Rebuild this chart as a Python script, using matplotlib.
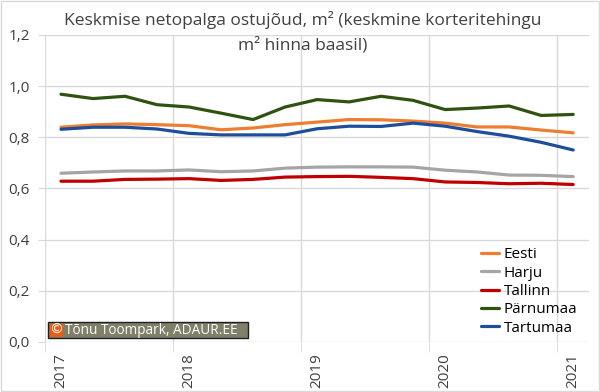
import matplotlib.pyplot as plt
import matplotlib.patches as mpatches
import numpy as np

plt.rcParams['font.family'] = ['Open Sans', 'DejaVu Sans']

# quarterly values, 2017 Q1 .. 2021 Q1
quarters = list(range(17))
year_labels = ['2017', '2018', '2019', '2020', '2021']

eesti = [0.839, 0.848, 0.852, 0.849, 0.845, 0.829, 0.836, 0.849, 0.859,
         0.869, 0.868, 0.863, 0.855, 0.840, 0.840, 0.828, 0.817]
harju = [0.659, 0.664, 0.668, 0.668, 0.672, 0.665, 0.668, 0.679, 0.683,
         0.684, 0.684, 0.683, 0.671, 0.664, 0.652, 0.651, 0.646]
tallinn = [0.628, 0.628, 0.635, 0.636, 0.638, 0.631, 0.635, 0.644, 0.646,
           0.647, 0.643, 0.638, 0.625, 0.623, 0.618, 0.620, 0.615]
parnumaa = [0.968, 0.951, 0.960, 0.927, 0.918, 0.894, 0.869, 0.918, 0.947,
            0.938, 0.960, 0.944, 0.908, 0.914, 0.922, 0.885, 0.889]
tartumaa = [0.831, 0.839, 0.839, 0.832, 0.815, 0.809, 0.809, 0.809, 0.833,
            0.843, 0.842, 0.855, 0.843, 0.822, 0.804, 0.780, 0.750]

series = [('Eesti', eesti, '#ED7D31'),
          ('Harju', harju, '#A5A5A5'),
          ('Tallinn', tallinn, '#C00000'),
          ('Pärnumaa', parnumaa, '#2E5310'),
          ('Tartumaa', tartumaa, '#1F4E99')]

fig = plt.figure(figsize=(6, 3.92), dpi=100)
ax = fig.add_axes([0.075, 0.128, 0.907, 0.783])

for name, vals, col in series:
    ax.plot(quarters, vals, color=col, lw=2.3, label=name, solid_capstyle='round')

ax.set_xlim(-0.5, 16.5)
ax.set_ylim(0, 1.2)
ax.set_yticks(np.arange(0, 1.21, 0.2))
ax.set_yticklabels([f'{v:.1f}'.replace('.', ',') for v in np.arange(0, 1.21, 0.2)],
                   fontsize=11, color='#404040')
ax.set_xticks([0, 4, 8, 12, 16])
ax.set_xticklabels(year_labels, rotation=90, fontsize=11, color='#404040')
ax.set_xticks([-0.5, 3.5, 7.5, 11.5, 15.5], minor=True)
ax.tick_params(axis='x', which='major', length=0, pad=8)
ax.tick_params(axis='x', which='minor', length=7, color='#D9D9D9')
ax.tick_params(axis='y', length=5, color='#D9D9D9', pad=6)

ax.grid(axis='y', color='#D9D9D9', lw=1)
ax.grid(axis='x', which='minor', color='#D9D9D9', lw=1)
ax.set_axisbelow(True)
for s in ax.spines.values():
    s.set_visible(False)

fig.text(0.505, 1 - 32 / 392, 'Keskmise netopalga ostujõud, m² (keskmine korteritehingu\nm² hinna baasil)',
         ha='center', va='center', fontsize=12.5, color='#404040', linespacing=1.6)

ax.legend(loc='lower left', bbox_to_anchor=(0.79, 0.0), frameon=False, fontsize=11,
          handlelength=1.2, handletextpad=0.3, labelspacing=0.22, borderaxespad=0)

# copyright box
fig.patches.append(mpatches.Rectangle((48 / 600, 1 - 338 / 392), 200 / 600, 16 / 392,
                                      transform=fig.transFigure, facecolor='#7F7F6A',
                                      edgecolor='#202020', lw=1))
fig.patches.append(mpatches.Rectangle((50 / 600, 1 - 336.5 / 392), 13 / 600, 13 / 392,
                                      transform=fig.transFigure, facecolor='#F05A14',
                                      edgecolor='none'))
fig.text(56.5 / 600, 1 - 330 / 392, '©', ha='center', va='center', fontsize=10,
         color='white', family='DejaVu Sans')
fig.text(65 / 600, 1 - 330 / 392, 'Tõnu Toompark, ADAUR.EE', ha='left', va='center',
         fontsize=9.8, color='white')

fig.patches.append(mpatches.Rectangle((0.002, 0.003), 0.996, 0.994, transform=fig.transFigure,
                                      fill=False, edgecolor='#D9D9D9', lw=1))

fig.savefig('out.png', dpi=100)
